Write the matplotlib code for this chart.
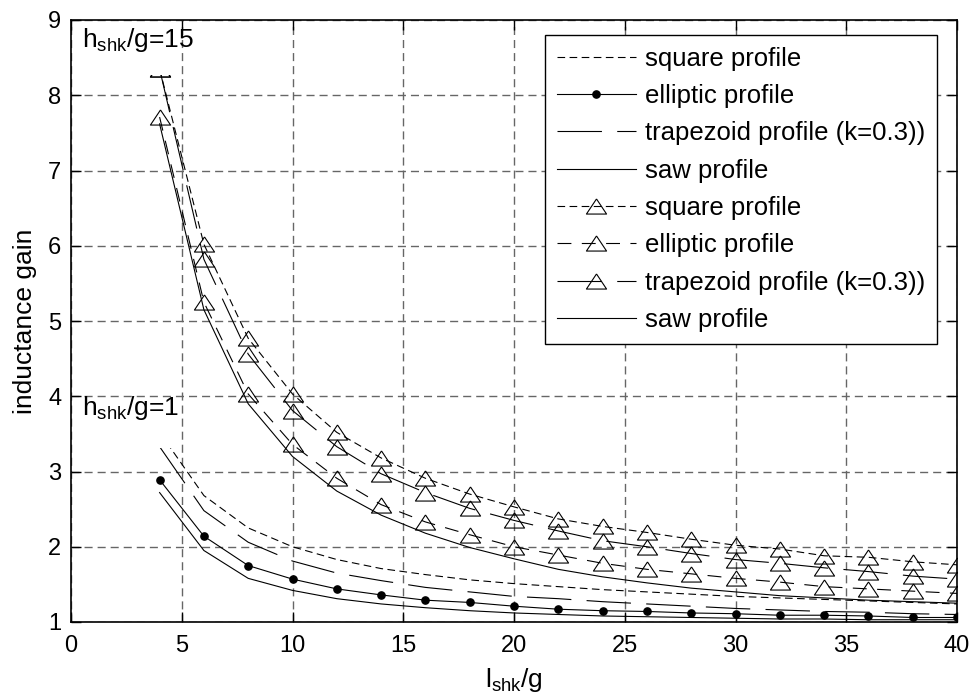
import matplotlib
matplotlib.use("Agg")
import matplotlib.pyplot as plt
from matplotlib.patches import Rectangle

plt.rcParams['font.family'] = ['Liberation Sans', 'DejaVu Sans']
plt.rcParams['lines.scale_dashes'] = False
plt.rcParams['mathtext.fontset'] = 'custom'
plt.rcParams['mathtext.rm'] = 'Liberation Sans'

# ---------------- data ----------------
x = [4, 6, 8, 10, 12, 14, 16, 18, 20, 22, 24, 26, 28, 30, 32, 34, 36, 38, 40]

# h_shk/g = 1
square1 = [3.52, 2.68, 2.25, 2.00, 1.83, 1.71, 1.63, 1.56, 1.51, 1.47, 1.43, 1.40, 1.37, 1.34, 1.32, 1.30, 1.28, 1.26, 1.24]
elliptic1 = [2.89, 2.14, 1.75, 1.57, 1.44, 1.36, 1.29, 1.26, 1.21, 1.17, 1.15, 1.14, 1.12, 1.11, 1.09, 1.09, 1.08, 1.06, 1.06]
trap1 = [3.33, 2.48, 2.06, 1.81, 1.65, 1.55, 1.46, 1.40, 1.34, 1.31, 1.27, 1.24, 1.21, 1.18, 1.16, 1.14, 1.13, 1.11, 1.10]
saw1 = [2.72, 1.95, 1.58, 1.42, 1.31, 1.24, 1.19, 1.15, 1.12, 1.10, 1.08, 1.07, 1.06, 1.05, 1.04, 1.04, 1.03, 1.03, 1.03]

# h_shk/g = 15
square15 = [8.35, 6.02, 4.77, 4.03, 3.52, 3.18, 2.91, 2.70, 2.53, 2.37, 2.27, 2.19, 2.10, 2.02, 1.97, 1.88, 1.86, 1.80, 1.76]
elliptic15 = [7.71, 5.25, 4.03, 3.36, 2.91, 2.56, 2.33, 2.16, 2.00, 1.89, 1.78, 1.70, 1.64, 1.58, 1.53, 1.47, 1.44, 1.41, 1.38]
trap15 = [8.35, 5.82, 4.56, 3.81, 3.33, 2.97, 2.72, 2.51, 2.35, 2.21, 2.08, 2.00, 1.91, 1.83, 1.78, 1.72, 1.67, 1.61, 1.57]
saw15 = [7.62, 5.15, 3.90, 3.20, 2.74, 2.42, 2.18, 1.99, 1.84, 1.70, 1.60, 1.52, 1.45, 1.40, 1.35, 1.32, 1.29, 1.27, 1.25]

labels = ['square profile', 'elliptic profile', 'trapezoid profile (k=0.3))', 'saw profile']
clip_top1 = 3.31
clip_top15 = 8.27

xticks = [0, 5, 10, 15, 20, 25, 30, 35, 40]
yticks = [1, 2, 3, 4, 5, 6, 7, 8, 9]

# ---------------- style ----------------
d_square = (5.5, 3.2)
d_ell = (10.0, 7.5)
d_trap = (32.0, 11.0)
tri = [(0, 0.75), (-1, -0.75), (1, -0.75), (0, 0.75)]
lw = 0.8

fig = plt.figure(figsize=(9.72, 6.98), dpi=100)
ax = fig.add_axes([71/972, 1-622/698, (957-71)/972, (622-20)/698])

def clip(line, top):
    r = Rectangle((0, 0), 40, top, transform=ax.transData)
    line.set_clip_path(r)

l1, = ax.plot(x, square1, color='k', lw=lw, dashes=d_square, label=labels[0])
clip(l1, clip_top1)
l2, = ax.plot(x, elliptic1, color='k', lw=lw, ls='-', marker='o', ms=5.2, label=labels[1])
l3, = ax.plot(x, trap1, color='k', lw=lw, dashes=d_trap, label=labels[2])
clip(l3, clip_top1)
l4, = ax.plot(x, saw1, color='k', lw=lw, ls='-', label=labels[3])

l5, = ax.plot(x, square15, color='k', lw=lw, dashes=d_square, marker=tri, ms=14.5,
              mfc='none', mec='k', mew=0.8, label=labels[0])
clip(l5, clip_top15)
l6, = ax.plot(x, elliptic15, color='k', lw=lw, dashes=d_ell, marker=tri, ms=14.5,
              mfc='none', mec='k', mew=0.8, label=labels[1])
clip(l6, clip_top15)
l7, = ax.plot(x, trap15, color='k', lw=lw, dashes=d_trap, marker=tri, ms=14.5,
              mfc='none', mec='k', mew=0.8, label=labels[2])
clip(l7, clip_top15)
l8, = ax.plot(x, saw15, color='k', lw=lw, ls='-', label=labels[3])

ax.set_xlim(0, 40)
ax.set_ylim(1, 9)
ax.set_xticks(xticks)
ax.set_yticks(yticks)
ax.set_xticklabels([str(t) for t in xticks], fontsize=17)
ax.set_yticklabels([str(t) for t in yticks], fontsize=17)
ax.tick_params(axis='x', direction='in', length=7, width=1, top=True, pad=9)
ax.tick_params(axis='y', direction='in', length=7, width=1, right=True, pad=7)
ax.grid(True, color='#666666', lw=1.0, dashes=(5.8, 3.6))
for s in ax.spines.values():
    s.set_linewidth(1.2)

ax.set_xlabel(r'l$_{\mathregular{shk}}$/g', fontsize=19, labelpad=7)
ax.set_ylabel('inductance gain', fontsize=19, labelpad=8)

ax.text(0.012, 0.966, r'h$_{\mathregular{shk}}$/g=15', transform=ax.transAxes,
        fontsize=19, ha='left', va='center')
ax.text(0.012, 0.355, r'h$_{\mathregular{shk}}$/g=1', transform=ax.transAxes,
        fontsize=19, ha='left', va='center')

leg = ax.legend(loc='upper right', bbox_to_anchor=((937-71)/886, (622-35)/602),
                borderaxespad=0, prop={'size': 18.5}, numpoints=1, handlelength=3.1,
                handletextpad=0.35, labelspacing=0.52, borderpad=0.45,
                fancybox=False, framealpha=1, edgecolor='k')
leg.get_frame().set_linewidth(1.0)

fig.savefig('out.png', dpi=100)
